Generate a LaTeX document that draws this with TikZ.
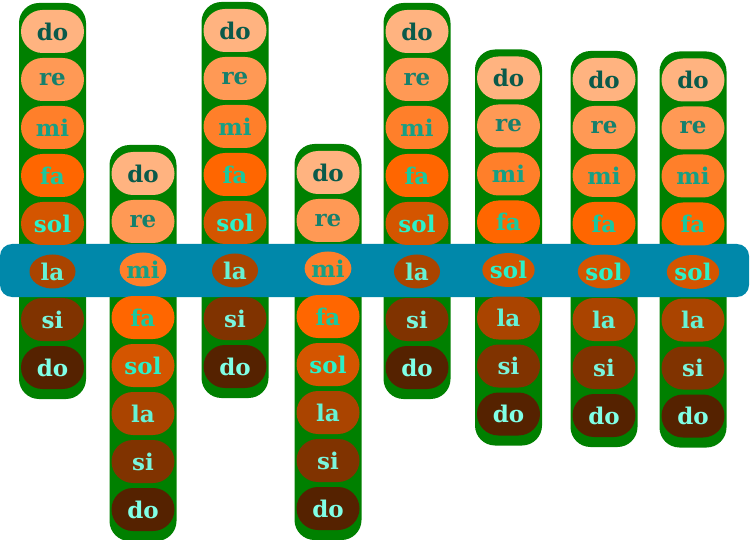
\documentclass[tikz,border=0pt]{standalone}
\usepackage{fontspec}
\setmainfont{DejaVu Serif}
\newfontfamily\tonschrift{DejaVu Serif Bold}
\usepackage{tikz}
\usetikzlibrary{shapes.misc, shapes.geometric, backgrounds}

% Füllfarben der Töne
\definecolor{ton1}{HTML}{FFB380}
\definecolor{ton2}{HTML}{FF9955}
\definecolor{ton3}{HTML}{FF7F2A}
\definecolor{ton4}{HTML}{FF6600}
\definecolor{ton5}{HTML}{D45500}
\definecolor{ton6}{HTML}{AA4400}
\definecolor{ton7}{HTML}{803300}
\definecolor{ton8}{HTML}{552200}
% Schriftfarben der Töne
\definecolor{schrift1}{HTML}{0A5A4A}
\definecolor{schrift2}{HTML}{16806C}
\definecolor{schrift3}{HTML}{16A085}
\definecolor{schrift4}{HTML}{1AC89E}
\definecolor{schrift5}{HTML}{2BF0C8}
\definecolor{schrift6}{HTML}{66F2D4}
\definecolor{schrift7}{HTML}{7AF5DC}
\definecolor{schrift8}{HTML}{80FFE6}
\definecolor{gruen}{HTML}{008000}
\definecolor{balkenblau}{HTML}{0088AA}

\begin{document}
\begin{tikzpicture}[
        x=1pt, y=-1pt,
        ton/.style={rounded rectangle, minimum width=63pt, minimum height=43pt, inner sep=0pt,
            font=\tonschrift\fontsize{23}{23}\selectfont},
        imbalken/.style={ellipse, minimum width=46pt, minimum height=34pt, inner sep=0pt,
            font=\tonschrift\fontsize{23}{23}\selectfont},
        saeule/.style={fill=gruen, rounded corners=20pt},
        balken/.style={fill=balkenblau, rounded corners=12pt}
    ]
    \useasboundingbox (0,0) rectangle (750,540);

    % Querbalken (liegt über den Säulen)
    \fill[balken] (0,244) rectangle (749,297);

    % Säulen: x-Mitte / y des ersten do / Ton im Balken
    \foreach \x/\y/\k [count=\spalte] in {52.5/31.5/6, 143/173.5/3, 235/30.5/6, 328/172.5/3,
                                          417/31.5/6, 508.5/78/5, 604/79.5/5, 693/80/5} {
        \foreach \n [count=\i] in {do,re,mi,fa,sol,la,si,do} {
            \ifnum\i=\k
                \node[imbalken, fill=ton\i, text=schrift\i] (s\spalte-\i) at (\x,{\y+48*(\i-1)}) {\n};
            \else
                \node[ton, fill=ton\i, text=schrift\i] (s\spalte-\i) at (\x,{\y+48*(\i-1)}) {\n};
            \fi
        }
        % grüne Säule hinter den Tönen
        \begin{scope}[on background layer]
            \fill[saeule] ([shift={(-33.5pt,28.5pt)}]s\spalte-1.center) rectangle ([shift={(33.5pt,-31.5pt)}]s\spalte-8.center);
        \end{scope}
    }

\end{tikzpicture}
\end{document}
